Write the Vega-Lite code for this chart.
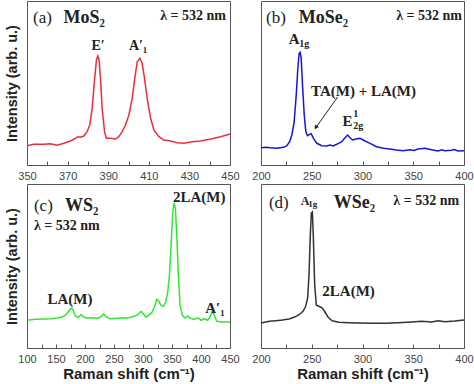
{
  "$schema": "https://vega.github.io/schema/vega-lite/v6.json",
  "padding": {"left": 3, "top": 0, "right": 0, "bottom": 0},
  "background": "white",
  "bounds": "flush",
  "columns": 2,
  "spacing": {"row": 19, "column": 31},
  "config": {
    "view": {"stroke": "#555", "strokeWidth": 1},
    "axis": {"labelFont": "Liberation Sans", "labelFontSize": 11, "labelColor": "#444", "titleFont": "Liberation Sans", "titleFontSize": 15, "titleFontWeight": "bold", "titleColor": "#222", "grid": false, "domain": false, "tickColor": "#555", "labelFlush": false},
    "text": {"font": "Liberation Serif", "color": "#222"}
  },
  "datasets": {
    "mos2": [{"x":350,"y":19.3},{"x":353.3,"y":20.7},{"x":358.2,"y":20.7},{"x":361.5,"y":21.3},{"x":364.8,"y":19.7},{"x":368.1,"y":21.7},{"x":371.4,"y":24},{"x":373.8,"y":26.7},{"x":375,"y":28.3},{"x":376.3,"y":27.7},{"x":378,"y":29},{"x":379.6,"y":33.3},{"x":380.9,"y":40},{"x":382.1,"y":56.7},{"x":383.2,"y":83.3},{"x":384.2,"y":105},{"x":384.9,"y":109},{"x":385.5,"y":105},{"x":386.2,"y":86.7},{"x":387,"y":56.7},{"x":388.2,"y":33.3},{"x":389.1,"y":26.7},{"x":391.1,"y":26.7},{"x":393.6,"y":26},{"x":395.2,"y":28.3},{"x":396.9,"y":33.3},{"x":398.5,"y":40},{"x":400.2,"y":50},{"x":401.8,"y":66.7},{"x":403.1,"y":86.7},{"x":404.3,"y":103.3},{"x":405.6,"y":106.7},{"x":406.7,"y":101.7},{"x":407.9,"y":86.7},{"x":409.2,"y":66.7},{"x":410.9,"y":46.7},{"x":412.5,"y":35},{"x":415,"y":28.3},{"x":417.4,"y":25},{"x":420.7,"y":24},{"x":424,"y":22.3},{"x":427.3,"y":21.7},{"x":431.4,"y":23.3},{"x":435.5,"y":24},{"x":440.5,"y":26},{"x":445.4,"y":28.3},{"x":450,"y":31}],
    "mose2": [{"x":200,"y":17.3},{"x":205,"y":17.8},{"x":209.2,"y":17.3},{"x":215.7,"y":16.7},{"x":222.3,"y":17.7},{"x":225.5,"y":19.3},{"x":228.2,"y":23.3},{"x":230.4,"y":30},{"x":232.7,"y":43.3},{"x":234.7,"y":70},{"x":236.3,"y":96.7},{"x":237.6,"y":111.7},{"x":238.6,"y":112.7},{"x":239.6,"y":106.7},{"x":240.9,"y":80},{"x":242.6,"y":50},{"x":244.2,"y":33.3},{"x":245.8,"y":29.3},{"x":247.8,"y":30.7},{"x":249.4,"y":31.3},{"x":251.7,"y":26.7},{"x":255,"y":21.7},{"x":259.9,"y":19.3},{"x":264.8,"y":19},{"x":268,"y":20},{"x":271,"y":19},{"x":274.6,"y":20.7},{"x":279.5,"y":23.3},{"x":282.8,"y":27.3},{"x":285.4,"y":30},{"x":287.7,"y":27.3},{"x":290.3,"y":25},{"x":293.6,"y":26},{"x":297.5,"y":26.7},{"x":302.5,"y":24},{"x":307.4,"y":21.7},{"x":313.9,"y":18.3},{"x":320.5,"y":16.7},{"x":327,"y":16},{"x":333.5,"y":15},{"x":340.1,"y":14.3},{"x":346.6,"y":15.3},{"x":350.5,"y":14.5},{"x":354.8,"y":16},{"x":361.4,"y":16.7},{"x":367.9,"y":15.3},{"x":374.5,"y":14},{"x":378,"y":15.2},{"x":381,"y":14.3},{"x":387.6,"y":14.7},{"x":390.5,"y":15.5},{"x":394.1,"y":14},{"x":400,"y":14.3}],
    "ws2": [{"x":100,"y":27.7},{"x":114.3,"y":28.7},{"x":131.6,"y":29},{"x":143,"y":29.3},{"x":151.6,"y":30},{"x":160.2,"y":31},{"x":166,"y":32.7},{"x":171.7,"y":36.7},{"x":176.3,"y":40},{"x":179.2,"y":38.7},{"x":183.2,"y":32},{"x":187.8,"y":30.7},{"x":193.5,"y":33.3},{"x":197.5,"y":31},{"x":203.3,"y":30},{"x":209,"y":30},{"x":214.7,"y":30.3},{"x":220.5,"y":29.7},{"x":226.2,"y":30.7},{"x":232,"y":34},{"x":236,"y":31.3},{"x":243.4,"y":29.3},{"x":254.9,"y":29.7},{"x":263.5,"y":30.3},{"x":272.1,"y":30},{"x":280.7,"y":31},{"x":289.3,"y":32.7},{"x":296.8,"y":36.7},{"x":300.8,"y":34},{"x":304.8,"y":31},{"x":309.4,"y":32.7},{"x":315.1,"y":35.3},{"x":319.7,"y":41},{"x":323.8,"y":48.7},{"x":327.8,"y":46},{"x":331.2,"y":42.7},{"x":335.2,"y":41.7},{"x":339.2,"y":46},{"x":342.7,"y":56},{"x":345.6,"y":72.7},{"x":348.4,"y":102.7},{"x":351.3,"y":136},{"x":353.6,"y":145},{"x":355.9,"y":139.3},{"x":358.2,"y":112.7},{"x":361,"y":72.7},{"x":363.9,"y":42.7},{"x":367.9,"y":32.7},{"x":372.5,"y":30},{"x":377.1,"y":32},{"x":381.1,"y":30},{"x":386.9,"y":28.7},{"x":395.5,"y":30},{"x":400,"y":27.7},{"x":405.8,"y":29.3},{"x":411.5,"y":27.7},{"x":415.5,"y":31},{"x":419.5,"y":36.7},{"x":423,"y":32.7},{"x":427,"y":26.7},{"x":435.6,"y":26},{"x":450,"y":26}],
    "wse2": [{"x":200,"y":25},{"x":208.2,"y":26.7},{"x":214.7,"y":27.3},{"x":221.2,"y":28},{"x":227.7,"y":29},{"x":232.6,"y":30.7},{"x":237.5,"y":33.3},{"x":241.4,"y":36.7},{"x":244,"y":41.7},{"x":246,"y":50},{"x":247.3,"y":73.3},{"x":248.6,"y":113.3},{"x":249.6,"y":135},{"x":250.6,"y":136},{"x":251.5,"y":113.3},{"x":252.9,"y":63.3},{"x":254.5,"y":42.7},{"x":257.1,"y":41.7},{"x":260.4,"y":40},{"x":263,"y":36},{"x":266.2,"y":30.7},{"x":270.1,"y":27.3},{"x":276.7,"y":25.7},{"x":286.5,"y":25.3},{"x":296.2,"y":25},{"x":309.3,"y":24.7},{"x":322.3,"y":24.7},{"x":335.4,"y":25.3},{"x":348.5,"y":26},{"x":358.2,"y":26.7},{"x":368,"y":26},{"x":374.6,"y":27.3},{"x":381.1,"y":26.3},{"x":390.9,"y":27},{"x":400,"y":28}]
  },
  "concat": [
    {
      "width": 203, "height": 164,
      "encoding": {
        "x": {"field": "x", "type": "quantitative", "scale": {"domain": [350, 450], "nice": false, "zero": false}, "axis": {"values": [350,360,370,380,390,400,410,420,430,440,450], "labelExpr": "datum.value % 20 == 0 ? '' : datum.label", "tickSize": -4, "labelPadding": 9, "title": null}},
        "y": {"field": "y", "type": "quantitative", "scale": {"domain": [0, 164], "nice": false}, "axis": {"title": "Intensity (arb. u.)", "ticks": false, "labels": false, "titlePadding": 8, "titleFontSize": 14.5}}
      },
      "layer": [
        {"data": {"name": "mos2"}, "mark": {"type": "line", "color": "#e8303a", "strokeWidth": 1.5}},
        {"data": {"values": [{"x": 353, "y": 147, "t": "(a)"}]}, "mark": {"type": "text", "fontSize": 17, "align": "left", "baseline": "middle"}, "encoding": {"text": {"field": "t"}}},
        {"data": {"values": [{"x": 368, "y": 147, "t": "MoS₂"}]}, "mark": {"type": "text", "fontSize": 18, "fontWeight": "bold", "align": "left", "baseline": "middle"}, "encoding": {"text": {"field": "t"}}},
        {"data": {"values": [{"x": 448, "y": 149, "t": "λ = 532 nm"}]}, "mark": {"type": "text", "fontSize": 14, "fontWeight": "bold", "align": "right", "baseline": "middle"}, "encoding": {"text": {"field": "t"}}},
        {"data": {"values": [{"x": 385, "y": 119, "t": "E′"}, {"x": 404.7, "y": 119, "t": "A′₁"}]}, "mark": {"type": "text", "fontSize": 14, "fontWeight": "bold", "align": "center", "baseline": "middle"}, "encoding": {"text": {"field": "t"}}}
      ]
    },
    {
      "width": 203, "height": 164,
      "encoding": {
        "x": {"field": "x", "type": "quantitative", "scale": {"domain": [200, 400], "nice": false, "zero": false}, "axis": {"values": [200,225,250,275,300,325,350,375,400], "labelExpr": "datum.value % 50 == 0 ? datum.label : ''", "tickSize": -4, "labelPadding": 9, "title": null}},
        "y": {"field": "y", "type": "quantitative", "scale": {"domain": [0, 164], "nice": false}, "axis": null}
      },
      "layer": [
        {"data": {"name": "mose2"}, "mark": {"type": "line", "color": "#1515d8", "strokeWidth": 1.5}},
        {"data": {"values": [{"x": 204.9, "y": 147, "t": "(b)"}]}, "mark": {"type": "text", "fontSize": 17, "align": "left", "baseline": "middle"}, "encoding": {"text": {"field": "t"}}},
        {"data": {"values": [{"x": 237.3, "y": 147, "t": "MoSe₂"}]}, "mark": {"type": "text", "fontSize": 18, "fontWeight": "bold", "align": "left", "baseline": "middle"}, "encoding": {"text": {"field": "t"}}},
        {"data": {"values": [{"x": 398, "y": 149, "t": "λ = 532 nm"}]}, "mark": {"type": "text", "fontSize": 14, "fontWeight": "bold", "align": "right", "baseline": "middle"}, "encoding": {"text": {"field": "t"}}},
        {"data": {"values": [{"x": 232.8, "y": 126, "t": "A"}, {"x": 301, "y": 74, "t": "TA(M)  + LA(M)"}, {"x": 285.3, "y": 44, "t": "E"}]}, "mark": {"type": "text", "fontSize": 15, "fontWeight": "bold", "align": "center", "baseline": "middle"}, "encoding": {"text": {"field": "t"}}},
        {"data": {"values": [{"x": 237.8, "y": 121.5, "t": "1g"}, {"x": 290.8, "y": 51, "t": "1"}, {"x": 290.8, "y": 39, "t": "2g"}]}, "mark": {"type": "text", "fontSize": 10, "fontWeight": "bold", "align": "left", "baseline": "middle"}, "encoding": {"text": {"field": "t"}}},
        {"data": {"values": [{"x": 275.5, "y": 68, "x2": 254.5, "y2": 38}]}, "mark": {"type": "rule", "color": "#222", "strokeWidth": 1}, "encoding": {"x2": {"field": "x2"}, "y2": {"field": "y2"}}},
        {"data": {"values": [{"x": 254, "y": 37.5}]}, "mark": {"type": "point", "shape": "triangle-up", "filled": true, "color": "#222", "size": 22, "angle": 213, "opacity": 1}}
      ]
    },
    {
      "width": 203, "height": 164,
      "encoding": {
        "x": {"field": "x", "type": "quantitative", "scale": {"domain": [100, 450], "nice": false, "zero": false}, "axis": {"values": [100,125,150,175,200,225,250,275,300,325,350,375,400,425,450], "labelExpr": "datum.value % 50 == 0 ? datum.label : ''", "tickSize": -4, "labelPadding": 9, "title": "Raman shift (cm⁻¹)", "titlePadding": 2}},
        "y": {"field": "y", "type": "quantitative", "scale": {"domain": [0, 164], "nice": false}, "axis": {"title": "Intensity (arb. u.)", "ticks": false, "labels": false, "titlePadding": 8, "titleFontSize": 14.5}}
      },
      "layer": [
        {"data": {"name": "ws2"}, "mark": {"type": "line", "color": "#33e633", "strokeWidth": 1.5}},
        {"data": {"values": [{"x": 112, "y": 142, "t": "(c)"}]}, "mark": {"type": "text", "fontSize": 17, "align": "left", "baseline": "middle"}, "encoding": {"text": {"field": "t"}}},
        {"data": {"values": [{"x": 165.5, "y": 142, "t": "WS₂"}]}, "mark": {"type": "text", "fontSize": 18, "fontWeight": "bold", "align": "left", "baseline": "middle"}, "encoding": {"text": {"field": "t"}}},
        {"data": {"values": [{"x": 112, "y": 122, "t": "λ = 532 nm"}]}, "mark": {"type": "text", "fontSize": 14, "fontWeight": "bold", "align": "left", "baseline": "middle"}, "encoding": {"text": {"field": "t"}}},
        {"data": {"values": [{"x": 397, "y": 151, "t": "2LA(M)"}, {"x": 174, "y": 49, "t": "LA(M)"}, {"x": 424, "y": 40, "t": "A′₁"}]}, "mark": {"type": "text", "fontSize": 15, "fontWeight": "bold", "align": "center", "baseline": "middle"}, "encoding": {"text": {"field": "t"}}}
      ]
    },
    {
      "width": 203, "height": 164,
      "encoding": {
        "x": {"field": "x", "type": "quantitative", "scale": {"domain": [200, 400], "nice": false, "zero": false}, "axis": {"values": [200,225,250,275,300,325,350,375,400], "labelExpr": "datum.value % 50 == 0 ? datum.label : ''", "tickSize": -4, "labelPadding": 9, "title": "Raman shift (cm⁻¹)", "titlePadding": 2}},
        "y": {"field": "y", "type": "quantitative", "scale": {"domain": [0, 164], "nice": false}, "axis": null}
      },
      "layer": [
        {"data": {"name": "wse2"}, "mark": {"type": "line", "color": "#333333", "strokeWidth": 1.5}},
        {"data": {"values": [{"x": 207.8, "y": 145, "t": "(d)"}]}, "mark": {"type": "text", "fontSize": 17, "align": "left", "baseline": "middle"}, "encoding": {"text": {"field": "t"}}},
        {"data": {"values": [{"x": 271.6, "y": 145, "t": "WSe₂"}]}, "mark": {"type": "text", "fontSize": 18, "fontWeight": "bold", "align": "left", "baseline": "middle"}, "encoding": {"text": {"field": "t"}}},
        {"data": {"values": [{"x": 330.4, "y": 147, "t": "λ = 532 nm"}]}, "mark": {"type": "text", "fontSize": 14, "fontWeight": "bold", "align": "left", "baseline": "middle"}, "encoding": {"text": {"field": "t"}}},
        {"data": {"values": [{"x": 239.2, "y": 147, "t": "A"}]}, "mark": {"type": "text", "fontSize": 12, "fontWeight": "bold", "align": "left", "baseline": "middle"}, "encoding": {"text": {"field": "t"}}},
        {"data": {"values": [{"x": 246.5, "y": 144, "t": "1g"}]}, "mark": {"type": "text", "fontSize": 9, "fontWeight": "bold", "align": "left", "baseline": "middle"}, "encoding": {"text": {"field": "t"}}},
        {"data": {"values": [{"x": 286.3, "y": 57, "t": "2LA(M)"}]}, "mark": {"type": "text", "fontSize": 15, "fontWeight": "bold", "align": "center", "baseline": "middle"}, "encoding": {"text": {"field": "t"}}}
      ]
    }
  ]
}
